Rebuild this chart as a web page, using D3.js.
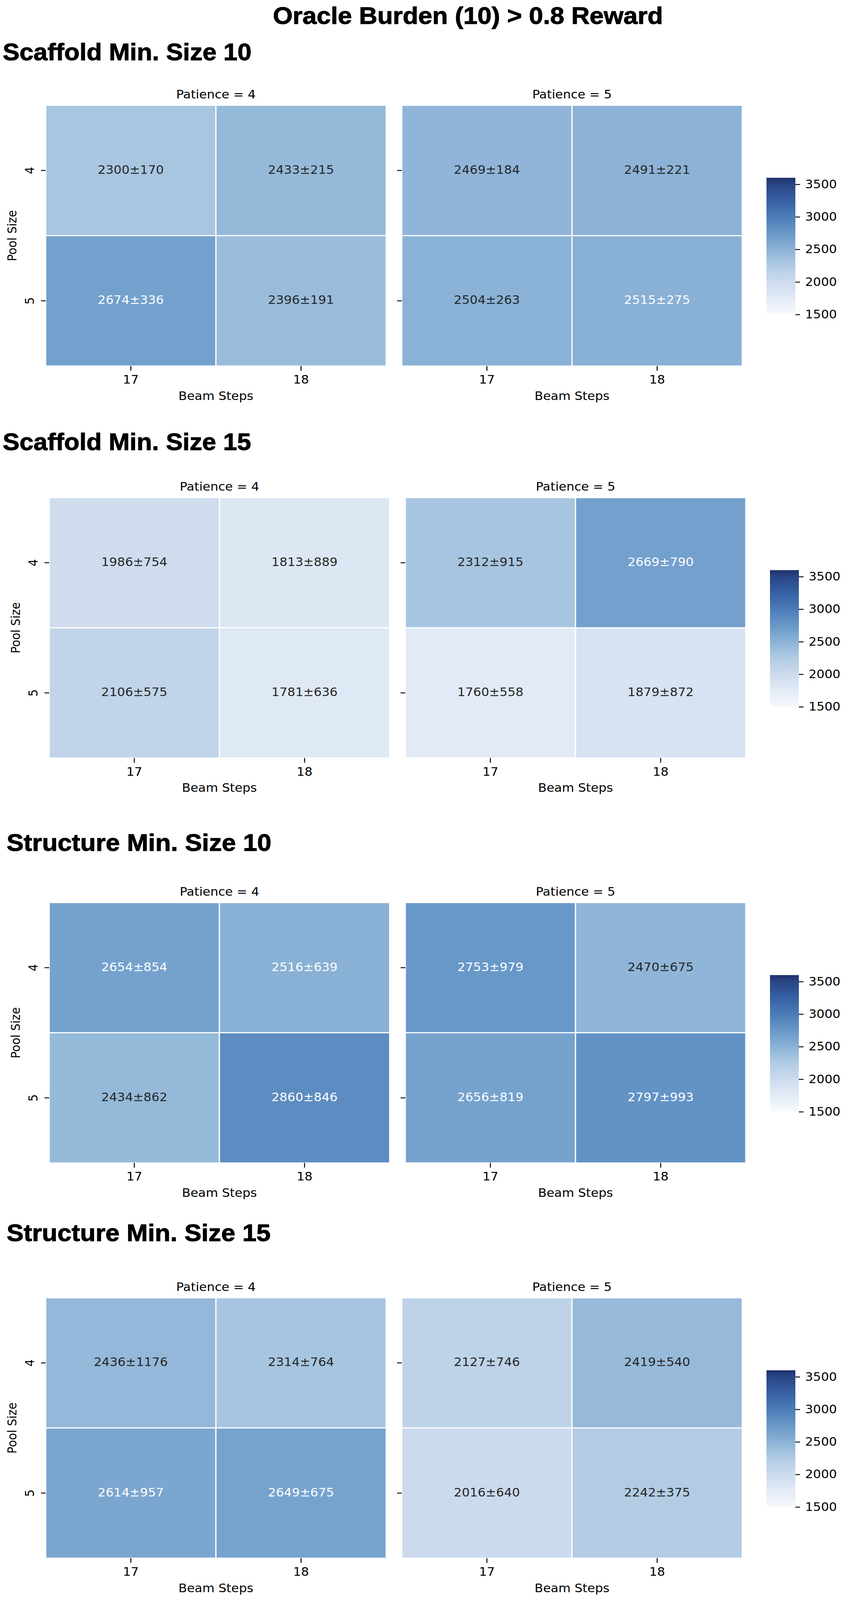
<!DOCTYPE html>
<html>
<head>
<meta charset="utf-8">
<script src="https://cdn.jsdelivr.net/npm/d3@7/dist/d3.min.js"></script>
<style>
  html, body { margin: 0; padding: 0; background: #ffffff; overflow: hidden; }
  svg { display: block; }
</style>
</head>
<body>
<svg id="chart"></svg>
<script>
// ---------------- DATA ----------------
const mainTitle = "Oracle Burden (10) > 0.8 Reward";
const sectionTitles = ["Scaffold Min. Size 10", "Scaffold Min. Size 15", "Structure Min. Size 10", "Structure Min. Size 15"];
const patienceLevels = [4, 5];
const poolSizes = [4, 5];
const beamSteps = [17, 18];
const colorbarTicks = [1500, 2000, 2500, 3000, 3500];
const colorMin = 1500;
const colorMax = 3600;

// order within each array: patience 4 -> [pool4/beam17, pool4/beam18, pool5/beam17, pool5/beam18], then patience 5 (same order)
const scaffold10Mean = [2300, 2433, 2674, 2396, 2469, 2491, 2504, 2515];
const scaffold10Std  = [170, 215, 336, 191, 184, 221, 263, 275];
const scaffold15Mean = [1986, 1813, 2106, 1781, 2312, 2669, 1760, 1879];
const scaffold15Std  = [754, 889, 575, 636, 915, 790, 558, 872];
const structure10Mean = [2654, 2516, 2434, 2860, 2753, 2470, 2656, 2797];
const structure10Std  = [854, 639, 862, 846, 979, 675, 819, 993];
const structure15Mean = [2436, 2314, 2614, 2649, 2127, 2419, 2016, 2242];
const structure15Std  = [1176, 764, 957, 675, 746, 540, 640, 375];

const sectionMeans = [scaffold10Mean, scaffold15Mean, structure10Mean, structure15Mean];
const sectionStds = [scaffold10Std, scaffold15Std, structure10Std, structure15Std];

// ---------------- STYLE / LAYOUT ----------------
const W = 2159, H = 4437;
const cmapStops = [1500, 2000, 2250, 2500, 2750, 3000, 3250, 3500, 3600];
const cmapColors = ["#f7fafe", "#cddbee", "#b0cbe3", "#8bb2d6", "#6898c8", "#4c7cb8", "#3661a3", "#2a4586", "#1f2f6b"];
const whiteTextAbove = 2510;

const layout = [
  { dx: 0, titleX: 7,  titleW: 637, titleBase: 167,  top: 292,  bottom: 1015 },
  { dx: 9, titleX: 7,  titleW: 636, titleBase: 1248, top: 1380, bottom: 2102 },
  { dx: 9, titleX: 17, titleW: 678, titleBase: 2359, top: 2503, bottom: 3225 },
  { dx: 0, titleX: 17, titleW: 676, titleBase: 3442, top: 3599, bottom: 4321 }
];
const panelX0 = [117, 1029];
const panelW = 872;
const cbX = 1963, cbW = 74, cbOffset = 201, cbH = 379;

const FONT = "'DejaVu Sans', sans-serif";
const TITLE_FONT = "'Liberation Sans Narrow', 'Liberation Sans', Arial, sans-serif";
const FS = 32;

// fit the whole figure into the visible window (the window may be shorter than the figure)
const vw = window.innerWidth || W;
const vh = Math.min(window.innerHeight || H, H);
const svg = d3.select("#chart")
  .attr("width", vw).attr("height", vh)
  .attr("viewBox", `0 0 ${W} ${H}`)
  .attr("preserveAspectRatio", "none");

svg.append("rect").attr("x", 0).attr("y", 0).attr("width", W).attr("height", H).attr("fill", "#ffffff");

const color = d3.scaleLinear().domain(cmapStops).range(cmapColors).interpolate(d3.interpolateRgb).clamp(true);

// gradient for colorbar
const defs = svg.append("defs");
const grad = defs.append("linearGradient").attr("id", "cbgrad")
  .attr("x1", 0).attr("y1", 1).attr("x2", 0).attr("y2", 0);
const gpos = d3.scaleLinear().domain([colorMin, colorMax]).range([0, 1]);
d3.range(colorMin, colorMax + 1, 25).forEach(v => {
  grad.append("stop").attr("offset", gpos(v)).attr("stop-color", color(v));
});

function heavyTitle(sel) {
  return sel.style("font-family", TITLE_FONT).style("font-weight", "bold").style("font-size", "66px")
    .attr("fill", "#000").attr("stroke", "#000").attr("stroke-width", 1.4)
    .attr("lengthAdjust", "spacingAndGlyphs");
}

// main title
svg.append("text")
  .attr("x", 699).attr("y", 66)
  .attr("textLength", 999)
  .call(heavyTitle)
  .text(mainTitle);

sectionTitles.forEach((title, si) => {
  const L = layout[si];
  const g = svg.append("g");

  g.append("text")
    .attr("x", L.titleX).attr("y", L.titleBase)
    .attr("textLength", L.titleW)
    .call(heavyTitle)
    .text(title);

  patienceLevels.forEach((p, pi) => {
    const x0 = panelX0[pi] + L.dx;
    const x = d3.scaleBand().domain(beamSteps).range([x0, x0 + panelW]);
    const y = d3.scaleBand().domain(poolSizes).range([L.top, L.bottom]);

    const cells = [];
    poolSizes.forEach((ps, ri) => {
      beamSteps.forEach((bs, ci) => {
        const idx = pi * 4 + ri * 2 + ci;
        cells.push({ pool: ps, beam: bs, mean: sectionMeans[si][idx], std: sectionStds[si][idx] });
      });
    });

    const pg = g.append("g");
    pg.selectAll("rect").data(cells).enter().append("rect")
      .attr("x", d => x(d.beam)).attr("y", d => y(d.pool))
      .attr("width", x.bandwidth()).attr("height", y.bandwidth())
      .attr("fill", d => color(d.mean))
      .attr("stroke", "#ffffff").attr("stroke-width", 3);

    pg.selectAll("text.annot").data(cells).enter().append("text")
      .attr("class", "annot")
      .attr("x", d => x(d.beam) + x.bandwidth() / 2)
      .attr("y", d => y(d.pool) + y.bandwidth() / 2 + 9)
      .attr("text-anchor", "middle")
      .style("font-family", FONT).style("font-size", FS + "px")
      .attr("fill", d => d.mean > whiteTextAbove ? "#ffffff" : "#262626")
      .text(d => `${d.mean}\u00b1${d.std}`);

    g.append("text")
      .attr("x", x0 + panelW / 2).attr("y", L.top - 19)
      .attr("text-anchor", "middle")
      .style("font-family", FONT).style("font-size", FS + "px")
      .attr("fill", "#000").text(`Patience = ${p}`);

    const xAxis = d3.axisBottom(x).tickSize(13).tickPadding(10);
    const xg = g.append("g").attr("transform", `translate(0,${L.bottom})`).call(xAxis);
    xg.select(".domain").remove();
    xg.selectAll(".tick line").attr("stroke", "#000").attr("stroke-width", 2.5);
    xg.selectAll(".tick text").style("font-family", FONT).style("font-size", FS + "px")
      .attr("fill", "#000").attr("dy", null).attr("y", 49);

    g.append("text")
      .attr("x", x0 + panelW / 2).attr("y", L.bottom + 94)
      .attr("text-anchor", "middle")
      .style("font-family", FONT).style("font-size", FS + "px")
      .attr("fill", "#000").text("Beam Steps");

    const yAxis = d3.axisLeft(y).tickSize(12).tickFormat(pi === 0 ? d => d : () => "");
    const yg = g.append("g").attr("transform", `translate(${x0},0)`).call(yAxis);
    yg.select(".domain").remove();
    yg.selectAll(".tick line").attr("stroke", "#000").attr("stroke-width", 2.5);
    yg.selectAll(".tick text")
      .style("font-family", FONT).style("font-size", FS + "px").attr("fill", "#000")
      .attr("x", null).attr("dy", null).attr("text-anchor", "middle")
      .attr("transform", `translate(${87 + L.dx - x0},0) rotate(-90)`);

    if (pi === 0) {
      g.append("text")
        .attr("transform", `translate(${42 + L.dx},${(L.top + L.bottom) / 2}) rotate(-90)`)
        .attr("text-anchor", "middle")
        .style("font-family", FONT).style("font-size", FS + "px")
        .attr("fill", "#000").text("Pool Size");
    }
  });

  const cbTop = L.top + cbOffset;
  const cbx = cbX + L.dx;
  g.append("rect").attr("x", cbx).attr("y", cbTop).attr("width", cbW).attr("height", cbH)
    .attr("fill", "url(#cbgrad)");
  const cbScale = d3.scaleLinear().domain([colorMin, colorMax]).range([cbTop + cbH, cbTop]);
  const cbAxis = d3.axisRight(cbScale).tickValues(colorbarTicks).tickSize(12).tickPadding(13).tickFormat(d3.format("d"));
  const cg = g.append("g").attr("transform", `translate(${cbx + cbW},0)`).call(cbAxis);
  cg.select(".domain").remove();
  cg.selectAll(".tick line").attr("stroke", "#000").attr("stroke-width", 2.5);
  cg.selectAll(".tick text").style("font-family", FONT).style("font-size", FS + "px").attr("fill", "#000");
});
</script>
</body>
</html>
